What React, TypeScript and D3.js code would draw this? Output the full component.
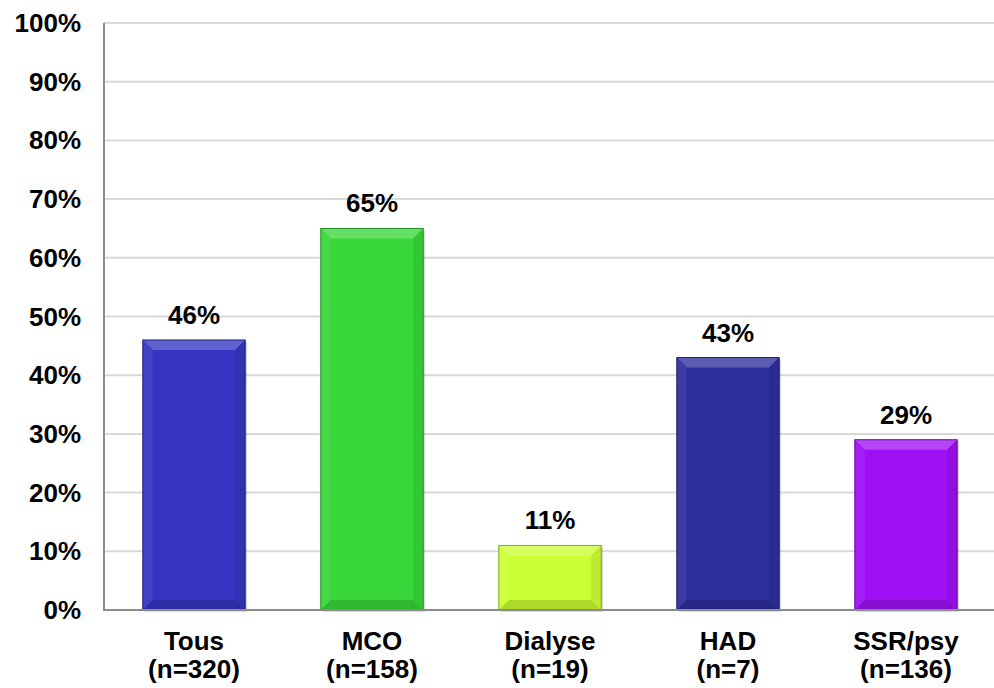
import React from "react";
import * as d3 from "d3";

const categories = ["Tous", "MCO", "Dialyse", "HAD", "SSR/psy"];
const counts = ["(n=320)", "(n=158)", "(n=19)", "(n=7)", "(n=136)"];
const values = [46, 65, 11, 43, 29];
const colors = ["#3535c2", "#38d83a", "#ccff33", "#2e2e9e", "#a010f5"];
const yTicks = [0, 10, 20, 30, 40, 50, 60, 70, 80, 90, 100];

const W = 994;
const H = 688;
const M = { left: 104, right: 0, top: 23, bottom: 78 };
const FONT = "'Liberation Sans', Arial, sans-serif";
const FS = 26;

export default function App() {
  const x = d3
    .scaleBand<string>()
    .domain(categories)
    .range([M.left + 1, W + 1])
    .paddingInner(0.425)
    .paddingOuter(0.2125);
  const y = d3.scaleLinear().domain([0, 100]).range([H - M.bottom, M.top]);
  const bev = 10;

  return (
    <svg
      width={W}
      height={H}
      style={{ position: "absolute", left: 0, top: 0, background: "#fff" }}
      fontFamily={FONT}
    >
      {yTicks.map((t) => (
        <g key={t}>
          {t > 0 && (
            <line x1={M.left} x2={W} y1={y(t)} y2={y(t)} stroke="#d9d9d9" strokeWidth={2} />
          )}
          <text
            x={81}
            y={y(t)}
            textAnchor="end"
            dominantBaseline="central"
            fontSize={FS}
            fontWeight="bold"
            fill="#000"
          >
            {t}%
          </text>
        </g>
      ))}

      {categories.map((c, i) => {
        const x0 = x(c)!;
        const w = x.bandwidth();
        const y0 = y(values[i]);
        const y1 = y(0);
        const col = colors[i];
        const light = d3.interpolateRgb(col, "#ffffff")(0.22);
        const dark = d3.interpolateRgb(col, "#000000")(0.15);
        const sideL = d3.interpolateRgb(col, "#ffffff")(0.06);
        const sideR = d3.interpolateRgb(col, "#000000")(0.08);
        const edge = d3.interpolateRgb(col, "#000000")(0.35);
        return (
          <g key={c}>
            <rect x={x0 + 2} y={y0 + 2} width={w} height={y1 - y0} fill="#000" opacity={0.15} />
            <rect x={x0} y={y0} width={w} height={y1 - y0} fill={col} />
            <polygon
              points={`${x0},${y0} ${x0 + w},${y0} ${x0 + w - bev},${y0 + bev} ${x0 + bev},${y0 + bev}`}
              fill={light}
            />
            <polygon
              points={`${x0},${y0} ${x0 + bev},${y0 + bev} ${x0 + bev},${y1 - bev} ${x0},${y1}`}
              fill={sideL}
            />
            <polygon
              points={`${x0 + w},${y0} ${x0 + w - bev},${y0 + bev} ${x0 + w - bev},${y1 - bev} ${x0 + w},${y1}`}
              fill={sideR}
            />
            <polygon
              points={`${x0},${y1} ${x0 + bev},${y1 - bev} ${x0 + w - bev},${y1 - bev} ${x0 + w},${y1}`}
              fill={dark}
            />
            <rect x={x0} y={y0} width={w} height={y1 - y0} fill="none" stroke={edge} strokeWidth={1} />
            <text
              x={x0 + w / 2}
              y={y0 - 25}
              textAnchor="middle"
              dominantBaseline="central"
              fontSize={FS}
              fontWeight="bold"
              fill="#000"
            >
              {values[i]}%
            </text>
            <text
              x={x0 + w / 2}
              y={641}
              textAnchor="middle"
              dominantBaseline="central"
              fontSize={FS}
              fontWeight="bold"
              fill="#000"
            >
              {c}
            </text>
            <text
              x={x0 + w / 2}
              y={669}
              textAnchor="middle"
              dominantBaseline="central"
              fontSize={FS}
              fontWeight="bold"
              fill="#000"
            >
              {counts[i]}
            </text>
          </g>
        );
      })}

      <line x1={M.left} x2={M.left} y1={M.top} y2={y(0) + 1} stroke="#8c8c8c" strokeWidth={2} />
      <line x1={M.left} x2={W} y1={y(0)} y2={y(0)} stroke="#8c8c8c" strokeWidth={2} />
    </svg>
  );
}
